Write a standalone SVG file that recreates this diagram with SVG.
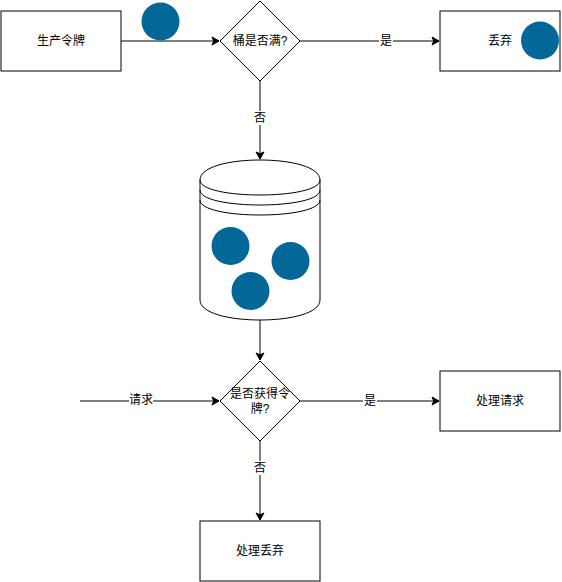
<svg xmlns="http://www.w3.org/2000/svg" width="562" height="582" viewBox="0 0 562 582">
<style>
.box{fill:#ffffff;stroke:#000000;stroke-width:1}
.t{font-family:"Liberation Sans","Noto Sans CJK SC",sans-serif;font-size:12px;fill:#000000;text-anchor:middle;dominant-baseline:central}
.e{fill:none;stroke:#000000;stroke-width:1;marker-end:url(#arr)}
.lb{fill:#ffffff;stroke:none}
.ball{fill:#036897;stroke:none}
</style>
<defs>
<marker id="arr" markerUnits="userSpaceOnUse" viewBox="-8 -5 10 10" refX="0" refY="0" markerWidth="10" markerHeight="10" orient="auto">
<path d="M0,0 L-7,-4 L-5.25,0 L-7,4 Z" fill="#000000" stroke="#000000" stroke-width="1"/>
</marker>
</defs>
<rect width="562" height="582" fill="#ffffff"/>
<g id="connectors">
<path class="e" d="M121,41 L219,41"/>
<path class="e" d="M300,41 L439,41"/>
<rect class="lb" x="379" y="34" width="14" height="14"/>
<text class="t" x="386" y="41">是</text>
<path class="e" d="M260,81 L260,159"/>
<rect class="lb" x="253" y="111" width="14" height="14"/>
<text class="t" x="260" y="118">否</text>
<path class="e" d="M260,320 L260,360"/>
<path class="e" d="M80,401 L219,401"/>
<rect class="lb" x="129" y="394" width="24" height="14"/>
<text class="t" x="141" y="400">请求</text>
<path class="e" d="M300,401 L439,401"/>
<rect class="lb" x="363" y="394" width="14" height="14"/>
<text class="t" x="370" y="401">是</text>
<path class="e" d="M260,441 L260,520"/>
<rect class="lb" x="253" y="461" width="14" height="14"/>
<text class="t" x="260" y="468">否</text>
</g>
<g id="produce">
<rect class="box" x="1" y="11" width="120" height="60"/>
<text class="t" x="61" y="41">生产令牌</text>
</g>
<g id="token-moving">
<circle class="ball" cx="160.5" cy="21.5" r="19"/>
</g>
<g id="bucket-full">
<path class="box" d="M260,1 L300,41 L260,81 L220,41 Z"/>
<text class="t" x="260" y="41">桶是否满?</text>
</g>
<g id="discard">
<rect class="box" x="440" y="11" width="120" height="60"/>
<text class="t" x="500" y="41">丢弃</text>
<circle class="ball" cx="540" cy="40.5" r="19"/>
</g>
<g id="bucket">
<path class="box" d="M200,180 C200,153.33 320,153.33 320,180 L320,300 C320,326.67 200,326.67 200,300 Z"/>
<path fill="none" stroke="#000" d="M200,180 C200,200 320,200 320,180 M200,190 C200,210 320,210 320,190 M200,200 C200,220 320,220 320,200"/>
<circle class="ball" cx="230.5" cy="246" r="19"/>
<circle class="ball" cx="290.5" cy="261" r="19"/>
<circle class="ball" cx="250.5" cy="291" r="19"/>
</g>
<g id="got-token">
<path class="box" d="M260,361 L300,401 L260,441 L220,401 Z"/>
<text class="t" x="260" y="394">是否获得令</text>
<text class="t" x="260" y="409">牌?</text>
</g>
<g id="handle-request">
<rect class="box" x="440" y="371" width="120" height="60"/>
<text class="t" x="500" y="401">处理请求</text>
</g>
<g id="handle-discard">
<rect class="box" x="200" y="521" width="120" height="60"/>
<text class="t" x="260" y="551">处理丢弃</text>
</g>
</svg>
